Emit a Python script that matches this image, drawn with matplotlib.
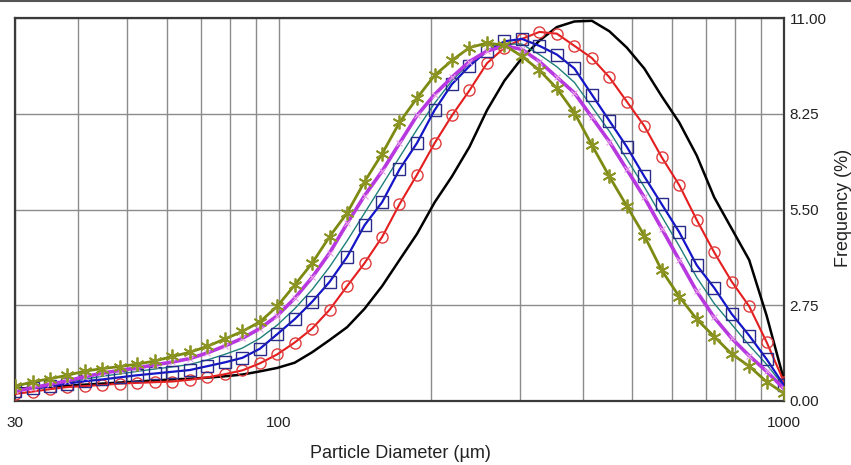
import matplotlib
matplotlib.use("Agg")
import matplotlib.pyplot as plt
from matplotlib.lines import Line2D
from matplotlib.ticker import FixedLocator, NullFormatter

plt.rcParams['font.family'] = ['Liberation Sans', 'DejaVu Sans']

# particle size classes (um)
diam = [30.0, 32.5, 35.2, 38.1, 41.3, 44.7, 48.4, 52.4, 56.8, 61.5,
        66.6, 72.1, 78.1, 84.6, 91.6, 99.2, 107.4, 116.3, 125.9, 136.4,
        147.7, 160.0, 173.2, 187.6, 203.2, 220.0, 238.3, 258.1, 279.5, 302.7,
        327.8, 355.0, 384.5, 416.4, 450.9, 488.3, 528.8, 572.7, 620.2, 671.7,
        727.4, 787.8, 853.2, 923.9, 1000.0]

# frequency (%) for each sample
freq_black = [0.35, 0.38, 0.41, 0.44, 0.47, 0.50, 0.53, 0.56, 0.59, 0.62,
              0.64, 0.67, 0.71, 0.76, 0.85, 0.95, 1.10, 1.40, 1.75, 2.12,
              2.65, 3.30, 4.05, 4.80, 5.70, 6.45, 7.30, 8.35, 9.20, 9.85,
              10.35, 10.74, 10.90, 10.92, 10.62, 10.15, 9.55, 8.75, 8.00, 7.05,
              5.85, 4.95, 4.05, 2.45, 0.60]
freq_red = [0.20, 0.27, 0.34, 0.40, 0.43, 0.46, 0.50, 0.52, 0.54, 0.56,
            0.61, 0.68, 0.77, 0.88, 1.08, 1.34, 1.68, 2.08, 2.62, 3.30,
            3.96, 4.71, 5.65, 6.50, 7.40, 8.20, 8.92, 9.70, 10.15, 10.40,
            10.60, 10.55, 10.20, 9.85, 9.30, 8.60, 7.90, 7.00, 6.20, 5.20,
            4.27, 3.43, 2.72, 1.69, 0.55]
freq_blue = [0.30, 0.36, 0.42, 0.50, 0.57, 0.62, 0.68, 0.74, 0.79, 0.84,
             0.89, 1.00, 1.11, 1.24, 1.50, 1.92, 2.35, 2.85, 3.42, 4.14,
             5.05, 5.71, 6.65, 7.41, 8.35, 9.10, 9.62, 10.05, 10.33, 10.40,
             10.20, 9.95, 9.55, 8.80, 8.05, 7.30, 6.45, 5.65, 4.85, 3.90,
             3.25, 2.50, 1.88, 1.20, 0.45]
freq_teal = [0.30, 0.37, 0.45, 0.54, 0.63, 0.71, 0.78, 0.85, 0.92, 0.98,
             1.05, 1.18, 1.34, 1.52, 1.80, 2.18, 2.65, 3.20, 3.85, 4.60,
             5.40, 6.20, 7.00, 7.80, 8.55, 9.20, 9.70, 10.05, 10.25, 10.25,
             9.95, 9.60, 9.15, 8.45, 7.75, 6.95, 6.15, 5.30, 4.45, 3.55,
             2.80, 2.20, 1.60, 1.05, 0.42]
freq_magenta = [0.28, 0.38, 0.48, 0.58, 0.70, 0.80, 0.88, 0.95, 1.04, 1.12,
                1.22, 1.38, 1.58, 1.80, 2.08, 2.45, 2.95, 3.55, 4.25, 5.10,
                5.90, 6.60, 7.40, 8.20, 8.80, 9.30, 9.75, 10.05, 10.20, 10.10,
                9.75, 9.30, 8.85, 8.15, 7.45, 6.65, 5.85, 4.95, 4.05, 3.15,
                2.40, 1.80, 1.30, 0.85, 0.35]
freq_olive = [0.42, 0.55, 0.64, 0.74, 0.86, 0.93, 0.99, 1.06, 1.15, 1.28,
              1.40, 1.57, 1.78, 2.00, 2.27, 2.72, 3.33, 3.96, 4.72, 5.40,
              6.30, 7.10, 8.00, 8.70, 9.35, 9.78, 10.15, 10.28, 10.22, 9.90,
              9.50, 8.98, 8.28, 7.35, 6.45, 5.60, 4.75, 3.75, 3.00, 2.35,
              1.85, 1.35, 1.00, 0.55, 0.22]

x_major = [30, 100, 1000]
x_minor = [40, 50, 60, 70, 80, 90, 200, 300, 400, 500, 600, 700, 800, 900]
y_ticks = [0, 2.75, 5.5, 8.25, 11]

fig = plt.figure(figsize=(8.51, 4.65), dpi=100)
ax = fig.add_axes([15 / 851, 1 - 401 / 465, 769 / 851, 383 / 465])

ax.plot(diam, freq_black, color='black', lw=1.8, zorder=3)
ax.plot(diam, freq_red, color='#e41e1e', lw=1.5, marker='o', ms=8,
        mfc='none', mec='#e03a3a', mew=1.0, zorder=4)
ax.plot(diam, freq_teal, color='#1f7f7a', lw=1.0, zorder=4)
ax.plot(diam, freq_blue, color='#1414c8', lw=1.6, marker='s', ms=8.5,
        mfc='none', mec='#2a2a8a', mew=1.0, zorder=5)
ax.plot(diam, freq_magenta, color='#b838e0', lw=2.6, marker='x', ms=4,
        mec='#e8a0e8', mew=0.8, zorder=6)
ax.plot(diam, freq_olive, color='#7d8a12', lw=2.0, marker=(6, 2, 0), ms=10,
        mec='#8c9424', mew=1.3, zorder=7)

ax.set_xscale('log')
ax.set_xlim(30, 1000)
ax.set_ylim(0, 11)
ax.xaxis.set_major_locator(FixedLocator(x_major))
ax.xaxis.set_minor_locator(FixedLocator(x_minor))
ax.xaxis.set_minor_formatter(NullFormatter())
ax.set_xticklabels([str(v) for v in x_major])
ax.set_yticks(y_ticks)
ax.set_yticklabels(['%.2f' % v for v in y_ticks])
ax.yaxis.tick_right()

ax.grid(True, which='both', axis='x', color='#8c8c8c', lw=1.0)
ax.grid(True, which='major', axis='y', color='#8c8c8c', lw=1.0)
ax.tick_params(axis='both', which='both', length=0, labelsize=11,
               labelcolor='#222222')
ax.tick_params(axis='x', pad=11)
ax.tick_params(axis='y', pad=4)
for s in ax.spines.values():
    s.set_color('#3a3a3a')
    s.set_linewidth(1.6)

fig.text(400 / 851, 1 - 453 / 465, 'Particle Diameter (\u00b5m)', ha='center',
         va='center', fontsize=13, color='#222222')
fig.text(843 / 851, 1 - 208 / 465, 'Frequency (%)', ha='center', va='center',
         rotation=90, fontsize=13, color='#222222')

# thin frame line across the top of the window
fig.add_artist(Line2D([0, 1], [1 - 1.5 / 465, 1 - 1.5 / 465], color='#555555', lw=1.5))

fig.savefig('out.png', dpi=100)
